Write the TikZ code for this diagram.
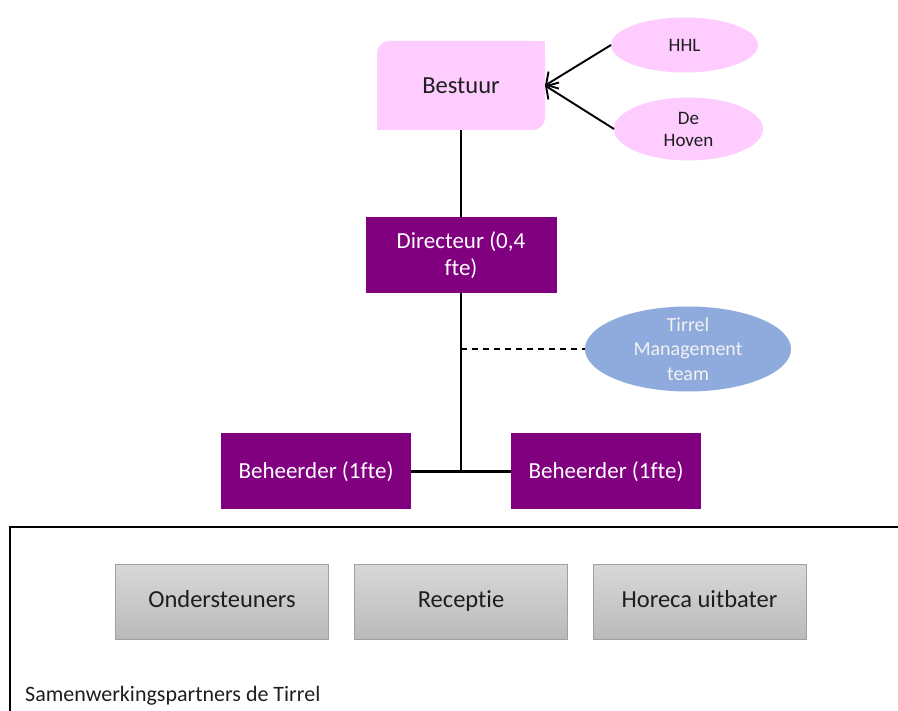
\documentclass[tikz,border=0pt]{standalone}
\usepackage{fontspec}
\setmainfont[Ligatures=NoCommon]{Carlito}
\usetikzlibrary{arrows,arrows.meta,shapes}
\usetikzlibrary{calc}

\definecolor{roze}{RGB}{255,204,255}
\definecolor{paars}{RGB}{128,0,128}
\definecolor{mtblauw}{RGB}{143,170,220}
\definecolor{grijsboven}{RGB}{216,216,216}
\definecolor{grijsonder}{RGB}{186,186,186}
\definecolor{grijsrand}{RGB}{160,160,160}
\definecolor{tekst}{RGB}{30,30,30}

\begin{document}
\begin{tikzpicture}[x=1pt, y=-1pt, >={Straight Barb[length=9pt, width=20pt]},
  bestuurblok/.style={fill=roze, rounded corners=12pt, minimum width=168, minimum height=89, inner sep=0, outer sep=0, text=tekst, font=\fontsize{24.5}{28}\selectfont},
  ovaal/.style={ellipse, fill=roze, inner sep=-12pt, outer sep=0, text=tekst, align=center, font=\fontsize{19}{22}\selectfont},
  paarsblok/.style={fill=paars, minimum width=190, minimum height=76, inner sep=0, outer sep=0, text=white, align=center, font=\fontsize{23}{27}\selectfont},
  grijsblok/.style={top color=grijsboven, bottom color=grijsonder, draw=grijsrand, line width=0.8pt, minimum width=213, minimum height=75, inner sep=0, text height=17pt, text depth=6pt, text=tekst, font=\fontsize{24.5}{28}\selectfont},
  lijn/.style={line width=2.8pt},
  pijl/.style={->, line width=1.9pt},
  stippel/.style={dashed, dash pattern=on 6pt off 5pt, line width=1.7pt}]

\useasboundingbox (0,0) rectangle (898,711);

% top: bestuur and partners
\node[bestuurblok] (bestuur) at (461,85.5) {Bestuur};
\fill[roze] (bestuur.north east) rectangle ++(-20,20);
\fill[roze] (bestuur.south west) rectangle ++(20,-20);

\node[ovaal, minimum width=147, minimum height=55] (hhl) at (684.5,45) {HHL};
\node[ovaal, minimum width=149, minimum height=63] (hoven) at (688.5,129) {De\\Hoven};

\draw[pijl] (hhl.west) -- (bestuur.east);
\draw[pijl] (hoven.west) -- (bestuur.east);

% directeur
\node[paarsblok, minimum width=191] (directeur) at (461,255) {Directeur (0,4\\fte)};
\draw[lijn] (bestuur.south) -- (directeur.north);

\node[ovaal, fill=mtblauw, text=white!95!black, minimum width=206, minimum height=85, font=\fontsize{20}{24.5}\selectfont] (mt) at (688,349) {Tirrel\\Management\\team};

% beheerders
\node[paarsblok] (beheerder1) at (316,471.5) {Beheerder (1fte)};
\node[paarsblok] (beheerder2) at (606,471.5) {Beheerder (1fte)};

\draw[lijn] (directeur.south) -- (directeur.south |- beheerder1.east);
\draw[lijn] (beheerder1.east) -- (beheerder2.west);
\draw[stippel] (directeur.south |- mt.west) -- (mt.west);

% samenwerkingspartners
\draw[line width=2pt] (10,712) -- (10,527) -- (900,527);

\node[grijsblok] (onder) at (222,601.5) {Ondersteuners};
\node[grijsblok] (receptie) at (461,601.5) {Receptie};
\node[grijsblok] (horeca) at (699.5,601.5) {Horeca uitbater};

\node[anchor=base west, inner sep=0, text=tekst, font=\fontsize{22}{26}\selectfont] (partners) at (25,701) {Samenwerkingspartners de Tirrel};

\end{tikzpicture}
\end{document}
